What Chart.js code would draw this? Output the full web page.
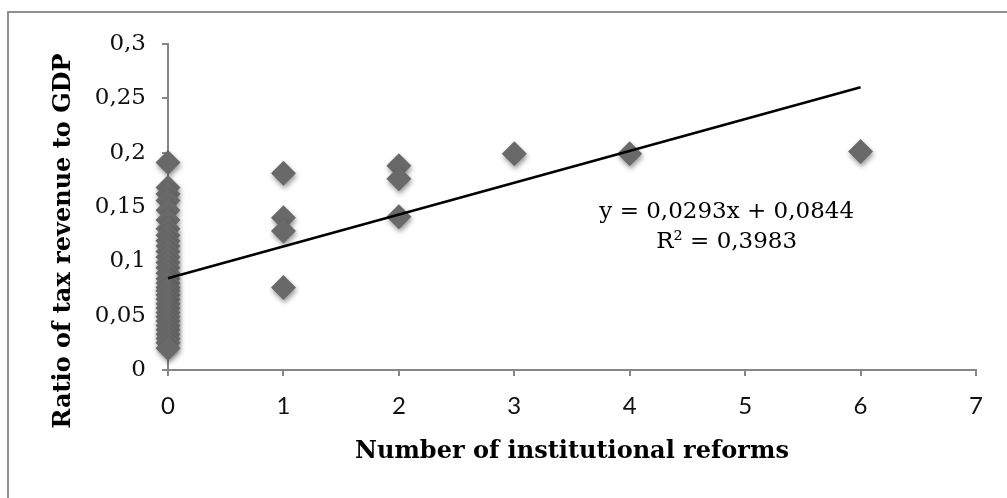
<!DOCTYPE html>
<html>
<head>
<meta charset="utf-8">
<script src="https://cdn.jsdelivr.net/npm/chart.js@4/dist/chart.umd.min.js"></script>
<style>
    html, body { margin: 0; padding: 0; background: #fff; }
    canvas { display: block; }
</style>
</head>
<body>
<canvas id="reformChart" width="1007" height="498"></canvas>
<script>
// ── tax ratio vs. institutional reforms ──────────────────────────────────
// Scatter of countries with an Excel-style linear trendline on top.

const reformCounts = [
    0, 0, 0, 0, 0, 0, 0, 0, 0, 0, 0, 0, 0, 0, 0, 0,
    0, 0, 0, 0, 0, 0, 0, 0, 0, 0, 0, 0, 0, 0, 0, 0,
    1, 1, 1, 1,
    2, 2, 2,
    3, 4, 6
];

const taxRatios = [
    0.191, 0.168, 0.162, 0.156, 0.147, 0.138, 0.130, 0.124,
    0.119, 0.114, 0.109, 0.104, 0.099, 0.094, 0.089, 0.084,
    0.080, 0.076, 0.073, 0.069, 0.065, 0.061, 0.057, 0.053,
    0.049, 0.045, 0.041, 0.037, 0.033, 0.029, 0.025, 0.020,
    0.181, 0.140, 0.128, 0.076,
    0.188, 0.176, 0.141,
    0.199, 0.199, 0.201
];

// trendline end points (y = 0,0293x + 0,0844 read at x = 0 and x = 6)
const trendX = [0, 6];
const trendY = [0.0844, 0.2602];

const xTicks = [0, 1, 2, 3, 4, 5, 6, 7];
const yTicks = [0, 0.05, 0.1, 0.15, 0.2, 0.25, 0.3];

const equationLabel = 'y = 0,0293x + 0,0844';
const r2Label = 'R² = 0,3983';
const xTitle = 'Number of institutional reforms';
const yTitle = 'Ratio of tax revenue to GDP';

const AXIS_GREY = '#868686';
const MARKER_GREY = '#696969';
const SERIF = '"DejaVu Serif", "Liberation Serif", serif';

function commaNumber(v) {
    return String(Number(v.toFixed(2))).replace('.', ',');
}

// white page + the grey frame that runs off the right/bottom edge
const framePlugin = {
    id: 'frame',
    beforeDraw(chart) {
        const ctx = chart.ctx;
        ctx.save();
        ctx.fillStyle = '#fff';
        ctx.fillRect(0, 0, chart.width, chart.height);
        ctx.strokeStyle = '#8e8e8e';
        ctx.lineWidth = 2;
        ctx.strokeRect(8, 12, chart.width + 40, chart.height + 40);
        ctx.restore();
    }
};

// soft drop shadow under the diamonds only
const shadowPlugin = {
    id: 'markerShadow',
    beforeDatasetDraw(chart, args) {
        if (args.index !== 0) return;
        const ctx = chart.ctx;
        ctx.save();
        ctx.shadowColor = 'rgba(0,0,0,0.4)';
        ctx.shadowBlur = 5;
        ctx.shadowOffsetX = 1;
        ctx.shadowOffsetY = 3;
    },
    afterDatasetDraw(chart, args) {
        if (args.index !== 0) return;
        chart.ctx.restore();
    }
};

// axis titles + trendline equation
const labelsPlugin = {
    id: 'labels',
    afterDraw(chart) {
        const ctx = chart.ctx;
        const area = chart.chartArea;
        const xs = chart.scales.x;
        const ys = chart.scales.y;

        ctx.save();
        ctx.fillStyle = '#000';
        ctx.textAlign = 'center';
        ctx.textBaseline = 'middle';

        ctx.font = '23px ' + SERIF;
        ctx.fillText(equationLabel, xs.getPixelForValue(4.84), ys.getPixelForValue(0.1455));
        ctx.fillText(r2Label, xs.getPixelForValue(4.84), ys.getPixelForValue(0.1175));

        ctx.font = 'bold 24px ' + SERIF;
        ctx.fillText(xTitle, (area.left + area.right) / 2, area.bottom + 82);

        ctx.translate(64, 241);
        ctx.rotate(-Math.PI / 2);
        ctx.fillText(yTitle, 0, 0);
        ctx.restore();
    }
};

const points = reformCounts.map((x, i) => ({ x: x, y: taxRatios[i] }));
const trendPoints = trendX.map((x, i) => ({ x: x, y: trendY[i] }));

new Chart(document.getElementById('reformChart'), {
    type: 'scatter',
    data: {
        datasets: [
            {
                label: 'Countries',
                data: points,
                pointStyle: 'rectRot',
                pointRadius: 12.5,
                pointHoverRadius: 12.5,
                backgroundColor: MARKER_GREY,
                borderWidth: 0,
                clip: false,
                order: 1
            },
            {
                label: 'Linear trend',
                data: trendPoints,
                showLine: true,
                borderColor: '#000',
                borderWidth: 2.5,
                pointRadius: 0,
                clip: false,
                order: 0
            }
        ]
    },
    options: {
        responsive: false,
        devicePixelRatio: 1,
        animation: false,
        layout: { padding: { left: 0, top: 44, right: 31, bottom: 0 } },
        plugins: {
            legend: { display: false },
            tooltip: { enabled: false }
        },
        scales: {
            x: {
                type: 'linear',
                min: 0,
                max: 7,
                afterFit(scale) { scale.height = 128; },
                afterBuildTicks(scale) { scale.ticks = xTicks.map(v => ({ value: v })); },
                grid: {
                    drawOnChartArea: false,
                    drawTicks: true,
                    tickLength: 6,
                    color: AXIS_GREY,
                    lineWidth: 2
                },
                border: { display: true, color: AXIS_GREY, width: 2 },
                ticks: {
                    padding: 16,
                    color: '#111',
                    font: { family: 'Lato, "Open Sans", sans-serif', size: 24 },
                    maxRotation: 0
                }
            },
            y: {
                type: 'linear',
                min: 0,
                max: 0.3,
                afterFit(scale) { scale.width = 168; },
                afterBuildTicks(scale) { scale.ticks = yTicks.map(v => ({ value: v })); },
                grid: {
                    drawOnChartArea: false,
                    drawTicks: true,
                    tickLength: 6,
                    color: AXIS_GREY,
                    lineWidth: 2
                },
                border: { display: true, color: AXIS_GREY, width: 2 },
                ticks: {
                    padding: 16,
                    color: '#111',
                    font: { family: SERIF, size: 23 },
                    callback: v => commaNumber(v)
                }
            }
        }
    },
    plugins: [framePlugin, shadowPlugin, labelsPlugin]
});
</script>
</body>
</html>
